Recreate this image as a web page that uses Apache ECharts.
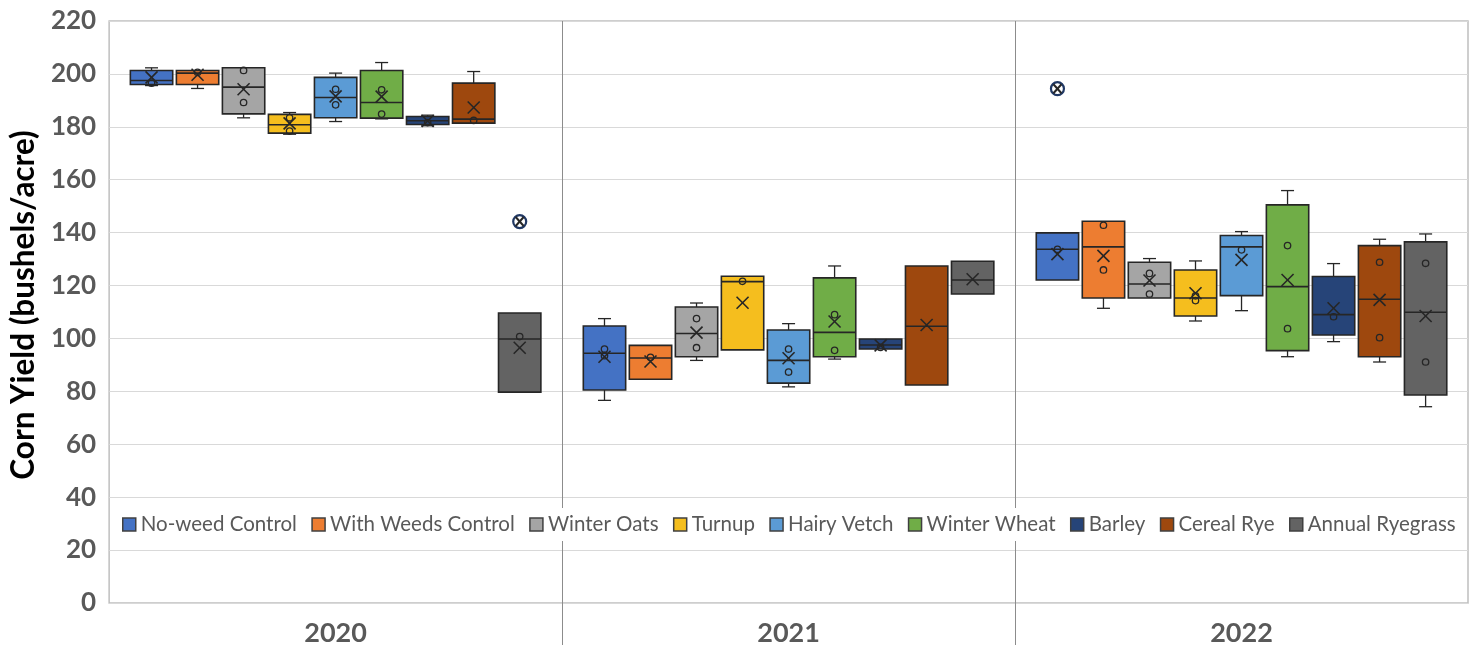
<!DOCTYPE html>
<html><head><meta charset="utf-8">
<script src="https://cdn.jsdelivr.net/npm/echarts@6/dist/echarts.min.js"></script>
<style>html,body{margin:0;padding:0;background:#fff}#c{width:1471px;height:648px}</style>
</head><body><div id="c"></div>
<script>
const years = ['2020', '2021', '2022'];
const treatments = ['No-weed Control', 'With Weeds Control', 'Winter Oats', 'Turnup', 'Hairy Vetch', 'Winter Wheat', 'Barley', 'Cereal Rye', 'Annual Ryegrass'];
const colors = ['#4472C4', '#ED7D31', '#A5A5A5', '#F5BE1E', '#5B9BD5', '#70AD47', '#264478', '#9E480E', '#636363'];

// [min, q1, median, q3, max] per treatment
const box2020 = [
  [195.6, 196.0, 197.5, 201.3, 202.3],
  [194.5, 196.0, 200.3, 201.3, 201.3],
  [183.4, 184.9, 195.0, 202.3, 202.3],
  [177.2, 177.6, 180.8, 184.7, 185.4],
  [182.0, 183.4, 191.1, 198.7, 200.3],
  [183.0, 183.3, 189.2, 201.3, 204.3],
  [180.4, 180.9, 182.3, 183.9, 184.4],
  [181.4, 181.4, 182.9, 196.5, 200.9],
  [79.7, 79.7, 99.8, 109.6, 109.6]
];
const mean2020 = [198.7, 199.7, 194.2, 181.3, 191.5, 191.4, 182.2, 187.3, 96.5];
const points2020 = [[196.5], [200.6], [201.3, 189.2], [183.4, 178.4], [194.2, 188.3], [194.0, 184.8], [181.6], [182.4], [100.7]];
const outliers2020 = [[], [], [], [], [], [], [], [], [144.2]];

const box2021 = [
  [76.6, 80.5, 94.4, 104.7, 107.5],
  [84.6, 84.6, 92.6, 97.4, 97.4],
  [91.7, 93.1, 101.9, 111.9, 113.4],
  [95.7, 95.7, 121.5, 123.5, 123.5],
  [81.7, 83.1, 91.7, 103.2, 105.6],
  [92.2, 93.1, 102.3, 122.9, 127.4],
  [96.0, 96.0, 97.5, 99.8, 99.8],
  [82.4, 82.4, 104.6, 127.4, 127.4],
  [116.8, 116.8, 122.1, 129.2, 129.2]
];
const mean2021 = [93.1, 91.3, 102.2, 113.5, 92.5, 106.4, 97.4, 105.1, 122.4];
const points2021 = [[96.0, 93.5], [92.9], [107.5, 96.5], [121.6], [96.0, 87.3], [109.0, 95.5], [96.6], [], []];
const outliers2021 = [[], [], [], [], [], [], [], [], []];

const box2022 = [
  [122.1, 122.1, 133.7, 139.9, 139.9],
  [111.4, 115.3, 134.6, 144.3, 144.3],
  [115.3, 115.3, 120.6, 128.8, 130.2],
  [106.6, 108.5, 115.3, 125.9, 129.3],
  [110.5, 116.2, 134.6, 138.9, 140.4],
  [93.1, 95.4, 119.6, 150.5, 155.9],
  [98.8, 101.3, 109.0, 123.4, 128.3],
  [91.1, 93.1, 114.8, 135.1, 137.5],
  [74.2, 78.6, 109.9, 136.5, 139.5]
];
const mean2022 = [131.9, 131.2, 121.9, 117.1, 129.7, 122.1, 111.4, 114.6, 108.5];
const points2022 = [[133.7], [142.8, 125.9], [124.6, 116.8], [116.1, 114.3], [133.5], [135.1, 103.7], [108.2], [128.8, 100.3], [128.4, 91.1]];
const outliers2022 = [[194.4], [], [], [], [], [], [], [], []];

const boxes = [box2020, box2021, box2022];
const means = [mean2020, mean2021, mean2022];
const points = [points2020, points2021, points2022];
const outliers = [outliers2020, outliers2021, outliers2022];

const chart = echarts.init(document.getElementById('c'), null, {renderer: 'canvas'});

function renderBox(params, api) {
  const s = params.seriesIndex;
  const i = api.value(0);
  const band = api.size([1, 0])[0];
  const cx = api.coord([i, 0])[0] + (s - 4) * band * 0.1016;
  const hw = band * 0.0935 / 2;
  const Y = v => api.coord([i, v])[1];
  const b = boxes[i][s];
  const fill = api.visual('color');
  const dark = '#262626';
  const kids = [];
  const cap = 6.5;
  const line = (x1, y1, x2, y2, w) => ({type: 'line', shape: {x1, y1, x2, y2}, style: {stroke: dark, lineWidth: w || 1.3}});
  if (b[4] > b[3]) {
    kids.push(line(cx, Y(b[3]), cx, Y(b[4])));
    kids.push(line(cx - cap, Y(b[4]), cx + cap, Y(b[4])));
  }
  if (b[0] < b[1]) {
    kids.push(line(cx, Y(b[1]), cx, Y(b[0])));
    kids.push(line(cx - cap, Y(b[0]), cx + cap, Y(b[0])));
  }
  kids.push({type: 'rect', shape: {x: cx - hw, y: Y(b[3]), width: 2 * hw, height: Y(b[1]) - Y(b[3])},
    style: {fill: fill, stroke: dark, lineWidth: 1.6}});
  kids.push(line(cx - hw, Y(b[2]), cx + hw, Y(b[2]), 1.6));
  points[i][s].forEach(p => {
    kids.push({type: 'circle', shape: {cx: cx, cy: Y(p), r: 3.2}, style: {fill: 'none', stroke: dark, lineWidth: 1.3}});
  });
  const m = means[i][s];
  const mx = 6, my = 6;
  kids.push(line(cx - mx, Y(m) - my, cx + mx, Y(m) + my, 1.6));
  kids.push(line(cx - mx, Y(m) + my, cx + mx, Y(m) - my, 1.6));
  outliers[i][s].forEach(o => {
    const oy = Y(o);
    kids.push({type: 'circle', shape: {cx: cx, cy: oy, r: 6.5}, style: {fill: '#fff', stroke: '#203864', lineWidth: 2.2}});
    kids.push(line(cx - 4, oy - 4.5, cx + 4, oy + 4.5, 2));
    kids.push(line(cx - 4, oy + 4.5, cx + 4, oy - 4.5, 2));
  });
  return {type: 'group', children: kids};
}

const series = treatments.map((name, s) => ({
  type: 'custom',
  name: name,
  data: years.map((y, i) => [i].concat(boxes[i][s])),
  encode: {x: 0, y: [1, 2, 3, 4, 5]},
  renderItem: renderBox,
  itemStyle: {color: colors[s]},
  z: 3
}));

series.push({
  type: 'custom',
  name: 'dividers',
  silent: true,
  clip: false,
  data: [[0, 0], [1, 0]],
  encode: {x: 0, y: 1},
  z: 1,
  renderItem: function (params, api) {
    const i = api.value(0);
    const x = (api.coord([i, 0])[0] + api.coord([i + 1, 0])[0]) / 2;
    const cs = params.coordSys;
    return {type: 'line', shape: {x1: Math.round(x) + 0.5, y1: cs.y, x2: Math.round(x) + 0.5, y2: cs.y + cs.height + 42},
      style: {stroke: '#8c8c8c', lineWidth: 1}};
  }
});

chart.setOption({
  animation: false,
  backgroundColor: '#fff',
  grid: {left: 108, right: 3, top: 21, bottom: 45, show: true, borderColor: '#bfbfbf', borderWidth: 1.5},
  legend: {
    data: treatments,
    left: 116, top: 508, width: 1450,
    padding: [6, 6],
    backgroundColor: '#fff',
    itemWidth: 13, itemHeight: 13, itemGap: 14.4,
    icon: 'rect',
    itemStyle: {borderColor: '#404040', borderWidth: 1.5},
    textStyle: {fontFamily: 'Lato', fontSize: 20.5, color: '#595959'}
  },
  xAxis: {
    type: 'category', data: years,
    axisLine: {show: false}, axisTick: {show: false}, splitLine: {show: false},
    axisLabel: {fontFamily: 'Lato', fontWeight: 'bold', fontSize: 27, color: '#595959', margin: 17}
  },
  yAxis: {
    type: 'value', min: 0, max: 220, interval: 20,
    name: 'Corn Yield (bushels/acre)', nameLocation: 'middle', nameGap: 51,
    nameTextStyle: {fontFamily: 'Lato', fontWeight: 'bold', fontSize: 31.5, color: '#000', padding: [0, 0, 0, 14]},
    axisLine: {show: false}, axisTick: {show: false},
    splitLine: {lineStyle: {color: '#d9d9d9', width: 1.2}},
    axisLabel: {fontFamily: 'Lato', fontWeight: 'bold', fontSize: 26, color: '#595959', margin: 13}
  },
  series: series
});
</script></body></html>
